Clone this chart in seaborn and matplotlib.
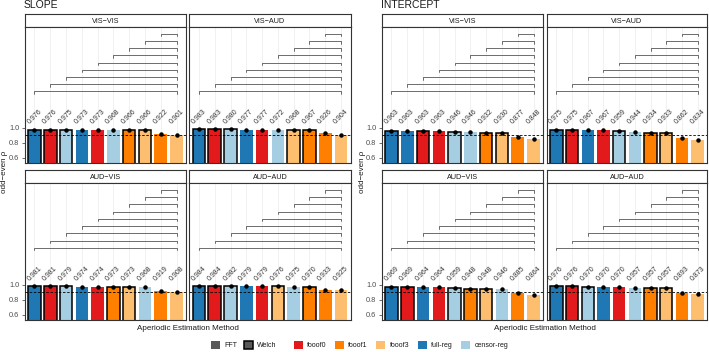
import numpy as np
import pandas as pd
import matplotlib
matplotlib.use("Agg")
import matplotlib.pyplot as plt
import seaborn as sns
from matplotlib.patches import Patch

sns.set_theme(style="white")
plt.rcParams['font.family'] = ['Liberation Sans', 'DejaVu Sans']

# ---------------- data ----------------
method_names = ["fooof0", "fooof1", "fooof3", "full-reg", "censor-reg"]
method_colors = ["#E31A1C", "#FF7F00", "#FDBF6F", "#1F78B4", "#A6CEE3"]
spectrum_names = ["FFT", "Welch"]
threshold = 0.9

slope_vis_vis_methods = ["full-reg", "fooof0", "censor-reg", "full-reg", "fooof0", "censor-reg", "fooof1", "fooof3", "fooof1", "fooof3"]
slope_vis_vis_spectra = ["Welch", "Welch", "Welch", "FFT", "FFT", "FFT", "Welch", "Welch", "FFT", "FFT"]
slope_vis_vis_values = [0.976, 0.976, 0.975, 0.973, 0.973, 0.968, 0.966, 0.966, 0.922, 0.901]

slope_vis_aud_methods = ["full-reg", "fooof0", "censor-reg", "full-reg", "fooof0", "censor-reg", "fooof3", "fooof1", "fooof1", "fooof3"]
slope_vis_aud_spectra = ["Welch", "Welch", "Welch", "FFT", "FFT", "FFT", "Welch", "Welch", "FFT", "FFT"]
slope_vis_aud_values = [0.983, 0.983, 0.980, 0.977, 0.977, 0.972, 0.968, 0.967, 0.926, 0.904]

slope_aud_vis_methods = ["full-reg", "fooof0", "censor-reg", "full-reg", "fooof0", "fooof1", "fooof3", "censor-reg", "fooof1", "fooof3"]
slope_aud_vis_spectra = ["Welch", "Welch", "Welch", "FFT", "FFT", "Welch", "Welch", "FFT", "FFT", "FFT"]
slope_aud_vis_values = [0.981, 0.981, 0.979, 0.974, 0.974, 0.973, 0.973, 0.968, 0.919, 0.908]

slope_aud_aud_methods = ["full-reg", "fooof0", "censor-reg", "full-reg", "fooof0", "fooof3", "censor-reg", "fooof1", "fooof1", "fooof3"]
slope_aud_aud_spectra = ["Welch", "Welch", "Welch", "FFT", "FFT", "Welch", "FFT", "Welch", "FFT", "FFT"]
slope_aud_aud_values = [0.984, 0.984, 0.982, 0.979, 0.979, 0.976, 0.975, 0.970, 0.933, 0.925]

int_vis_vis_methods = ["full-reg", "full-reg", "fooof0", "fooof0", "censor-reg", "censor-reg", "fooof1", "fooof3", "fooof1", "fooof3"]
int_vis_vis_spectra = ["Welch", "FFT", "Welch", "FFT", "Welch", "FFT", "Welch", "Welch", "FFT", "FFT"]
int_vis_vis_values = [0.963, 0.963, 0.963, 0.963, 0.946, 0.946, 0.932, 0.930, 0.877, 0.848]

int_vis_aud_methods = ["full-reg", "fooof0", "full-reg", "fooof0", "censor-reg", "censor-reg", "fooof1", "fooof3", "fooof1", "fooof3"]
int_vis_aud_spectra = ["Welch", "Welch", "FFT", "FFT", "Welch", "FFT", "Welch", "Welch", "FFT", "FFT"]
int_vis_aud_values = [0.975, 0.975, 0.967, 0.967, 0.959, 0.944, 0.934, 0.933, 0.862, 0.834]

int_aud_vis_methods = ["full-reg", "fooof0", "full-reg", "fooof0", "censor-reg", "fooof1", "fooof3", "censor-reg", "fooof1", "fooof3"]
int_aud_vis_spectra = ["Welch", "Welch", "FFT", "FFT", "Welch", "Welch", "Welch", "FFT", "FFT", "FFT"]
int_aud_vis_values = [0.969, 0.969, 0.964, 0.964, 0.959, 0.948, 0.948, 0.946, 0.885, 0.864]

int_aud_aud_methods = ["full-reg", "fooof0", "censor-reg", "full-reg", "fooof0", "censor-reg", "fooof1", "fooof3", "fooof1", "fooof3"]
int_aud_aud_spectra = ["Welch", "Welch", "Welch", "FFT", "FFT", "FFT", "Welch", "Welch", "FFT", "FFT"]
int_aud_aud_values = [0.976, 0.976, 0.970, 0.970, 0.970, 0.957, 0.957, 0.957, 0.893, 0.873]

panels = {
    "SLOPE": [
        ("VIS\u2212VIS", slope_vis_vis_methods, slope_vis_vis_spectra, slope_vis_vis_values),
        ("VIS\u2212AUD", slope_vis_aud_methods, slope_vis_aud_spectra, slope_vis_aud_values),
        ("AUD\u2212VIS", slope_aud_vis_methods, slope_aud_vis_spectra, slope_aud_vis_values),
        ("AUD\u2212AUD", slope_aud_aud_methods, slope_aud_aud_spectra, slope_aud_aud_values),
    ],
    "INTERCEPT": [
        ("VIS\u2212VIS", int_vis_vis_methods, int_vis_vis_spectra, int_vis_vis_values),
        ("VIS\u2212AUD", int_vis_aud_methods, int_vis_aud_spectra, int_vis_aud_values),
        ("AUD\u2212VIS", int_aud_vis_methods, int_aud_vis_spectra, int_aud_vis_values),
        ("AUD\u2212AUD", int_aud_aud_methods, int_aud_aud_spectra, int_aud_aud_values),
    ],
}

palette = dict(zip(method_names, method_colors))

# ---------------- layout (pixels) ----------------
W, H = 709, 352
fig = plt.figure(figsize=(W / 100, H / 100), dpi=100)
fig.patch.set_facecolor("white")

def rect(x0, y0, x1, y1):
    return [x0 / W, 1 - y1 / H, (x1 - x0) / W, (y1 - y0) / H]

half_cols = {"SLOPE": [(25, 186), (189.5, 350.5)], "INTERCEPT": [(382, 543), (547, 707)]}
rows = [((14, 27), (27, 163)), ((170, 183), (183, 320))]
BORDER = "#333333"

for half, plist in panels.items():
    cols = half_cols[half]
    for k, (name, methods, spectra, values) in enumerate(plist):
        r, c = divmod(k, 2)
        (sy0, sy1), (py0, py1) = rows[r]
        x0, x1 = cols[c]
        # strip
        sax = fig.add_axes(rect(x0, sy0, x1, sy1))
        sax.set_xticks([]); sax.set_yticks([])
        sax.set_facecolor("white")
        for sp in sax.spines.values():
            sp.set_color(BORDER); sp.set_linewidth(0.8)
        sax.text(0.5, 0.45, name, ha="center", va="center", fontsize=5.2,
                 color="#1A1A1A", transform=sax.transAxes)
        # panel
        ax = fig.add_axes(rect(x0, py0, x1, py1))
        n = len(values)
        df = pd.DataFrame({"pos": [str(i) for i in range(n)], "value": values,
                           "method": methods, "spectrum": spectra})
        sns.barplot(data=df, x="pos", y="value", hue="method", palette=palette,
                    order=[str(i) for i in range(n)], dodge=False, width=0.8,
                    legend=False, ax=ax, errorbar=None, saturation=1)
        for p in ax.patches:
            h = p.get_height()
            if h is None or np.isnan(h) or h == 0:
                continue
            idx = int(round(p.get_x() + p.get_width() / 2))
            if spectra[idx] == "Welch":
                p.set_edgecolor("black"); p.set_linewidth(1.1)
            else:
                p.set_edgecolor("none"); p.set_linewidth(0)
            p.set_zorder(2)
        xs = np.arange(n)
        ax.errorbar(xs, values, yerr=0.004, fmt="o", ms=2.2, color="black",
                    elinewidth=0.8, capsize=0, zorder=4)
        ax.axhline(threshold, ls=(0, (3, 2)), color="black", lw=0.6, zorder=3)
        # value labels
        for i, v in enumerate(values):
            ax.text(i, 1.15, f"{v:.3f}", rotation=45, ha="center", va="center",
                    fontsize=5, color="#333333", zorder=5)
        # comparison brackets (each bar vs last bar)
        base, step, drop = 1.49, 0.096, 0.035
        for i in range(n - 1):
            yb = base + i * step
            ax.plot([i, i, n - 1, n - 1], [yb - drop, yb, yb, yb - drop],
                    color="#555555", lw=0.6, zorder=3)
        ax.set_xlim(-0.6, n - 0.4)
        ax.set_ylim(0.53, 2.35)
        ax.set_xticks(xs)
        ax.set_xticklabels([])
        ax.tick_params(axis="x", length=0)
        ax.grid(axis="x", color="#EBEBEB", lw=0.5)
        ax.grid(axis="y", visible=False)
        ax.set_axisbelow(True)
        ax.set_yticks([0.6, 0.8, 1.0])
        if c == 0:
            ax.set_yticklabels(["0.6", "0.8", "1.0"], fontsize=5.3, color="#4D4D4D")
            ax.tick_params(axis="y", length=2.2, width=0.5, color="#333333", pad=1.8, left=True)
        else:
            ax.set_yticklabels([])
            ax.tick_params(axis="y", length=0)
        ax.set_xlabel(""); ax.set_ylabel("")
        for sp in ax.spines.values():
            sp.set_color(BORDER); sp.set_linewidth(0.8)
    # half titles and labels
    hx0 = cols[0][0]; hx1 = cols[1][1]
    fig.text(hx0 / W - 0.002, 1 - 8.5 / H, half, ha="left", va="baseline", fontsize=7.5, color="#1A1A1A")
    fig.text((hx0 + hx1) / 2 / W, 1 - 328 / H, "Aperiodic Estimation Method",
             ha="center", va="center", fontsize=5.8, color="#1A1A1A")
    fig.text((hx0 - 20) / W, 1 - 172 / H, "odd\u2212even \u03c1", rotation=90,
             ha="center", va="center", fontsize=5.8, color="#1A1A1A")

# ---------------- legends ----------------
spec_handles = [Patch(facecolor="#595959", edgecolor="none", label=spectrum_names[0]),
                Patch(facecolor="#595959", edgecolor="black", linewidth=1.1, label=spectrum_names[1])]
leg1 = fig.legend(handles=spec_handles, loc="center", bbox_to_anchor=(244 / W, 1 - 345 / H),
                  ncol=2, frameon=False, fontsize=5, handlelength=1.3, handleheight=1.3,
                  columnspacing=1.0, handletextpad=0.6)
meth_handles = [Patch(facecolor=c, edgecolor="none", label=m) for m, c in zip(method_names, method_colors)]
leg2 = fig.legend(handles=meth_handles, loc="center", bbox_to_anchor=(401 / W, 1 - 345 / H),
                  ncol=5, frameon=False, fontsize=5, handlelength=1.3, handleheight=1.3,
                  columnspacing=1.25, handletextpad=0.6)
for leg in (leg1, leg2):
    for t in leg.get_texts():
        t.set_color("#1A1A1A")

fig.savefig("out.png", dpi=100, facecolor="white")
